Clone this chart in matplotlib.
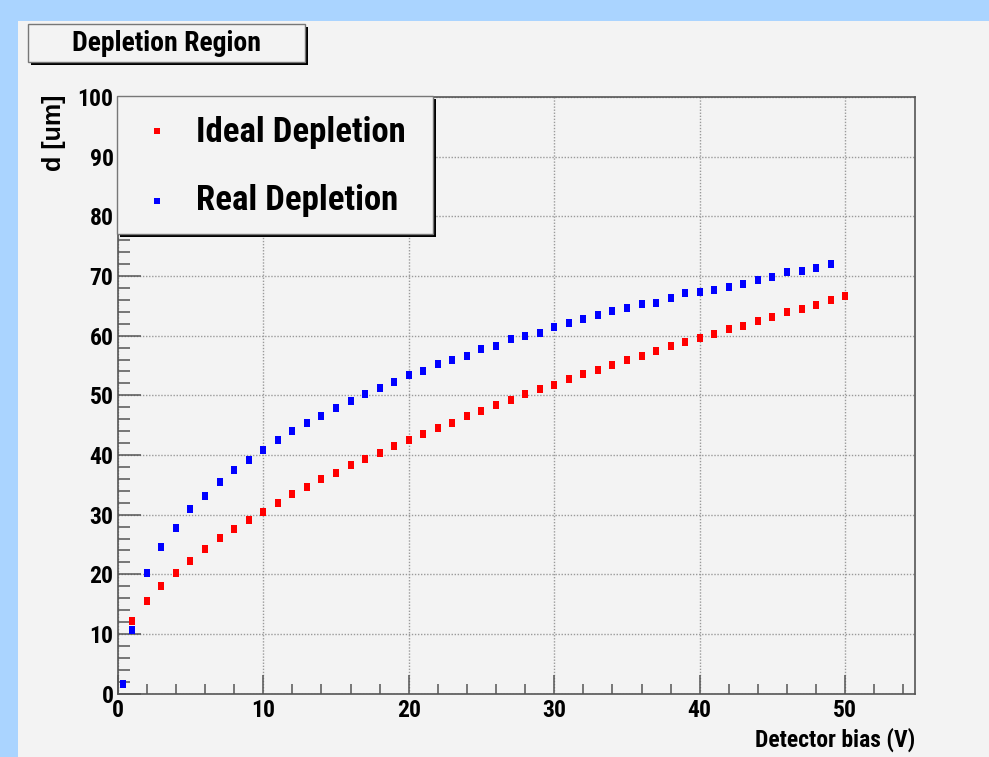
import matplotlib
matplotlib.use("Agg")
import matplotlib.pyplot as plt
from matplotlib.patches import Rectangle
from matplotlib.lines import Line2D
from matplotlib.ticker import MultipleLocator
from matplotlib.path import Path

# ---------------- data ----------------
ideal_x = list(range(1, 51))
ideal_d = [12.2, 15.5, 18.0, 20.3, 22.3, 24.2, 26.1, 27.6, 29.1, 30.5,
           31.9, 33.4, 34.6, 35.9, 37.0, 38.3, 39.3, 40.4, 41.5, 42.6,
           43.5, 44.6, 45.4, 46.5, 47.4, 48.4, 49.3, 50.2, 51.0, 51.8,
           52.7, 53.5, 54.2, 55.1, 55.9, 56.6, 57.5, 58.2, 58.9, 59.6,
           60.3, 61.1, 61.7, 62.5, 63.2, 63.9, 64.4, 65.2, 65.9, 66.6]

real_x = [0.35] + list(range(1, 50))
real_d = [1.7, 10.7, 20.3, 24.6, 27.8, 30.9, 33.2, 35.4, 37.5, 39.1,
          40.9, 42.5, 44.0, 45.4, 46.5, 47.9, 49.0, 50.2, 51.2, 52.3,
          53.4, 54.1, 55.2, 56.0, 56.6, 57.7, 58.2, 59.5, 60.0, 60.5,
          61.4, 62.1, 62.8, 63.5, 64.2, 64.7, 65.3, 65.5, 66.3, 67.1,
          67.3, 67.7, 68.2, 68.7, 69.4, 69.8, 70.6, 70.8, 71.3, 72.0]

x_ticks = [0, 10, 20, 30, 40, 50]
y_ticks = [0, 10, 20, 30, 40, 50, 60, 70, 80, 90, 100]
legend_labels = ["Ideal Depletion", "Real Depletion"]
title_text = "Depletion Region"
x_label = "Detector bias (V)"
y_label = "d [um]"

# ---------------- style ----------------
FONT = ["Roboto Condensed", "Liberation Sans", "DejaVu Sans"]
FONT_WIDE = ["Liberation Sans", "DejaVu Sans"]
plt.rcParams["font.family"] = FONT

W, H = 989, 757
def fx(x):
    return x / W
def fy(y):
    return 1 - y / H

BLUE_BG = "#aad4ff"
PANEL = "#f3f3f3"
FRAME = "#555555"

fig = plt.figure(figsize=(W / 100, H / 100), dpi=100)
fig.patch.set_facecolor(BLUE_BG)
fig.patches.append(Rectangle((fx(18), 0), 1 - fx(18), fy(21), transform=fig.transFigure,
                             facecolor=PANEL, edgecolor="none", zorder=-5))

ax_l, ax_r, ax_t, ax_b = 117.7, 915, 97, 693.7
ax = fig.add_axes([fx(ax_l), fy(ax_b), fx(ax_r) - fx(ax_l), fy(ax_t) - fy(ax_b)])
ax.set_zorder(1)
ax.set_facecolor(PANEL)
ax.set_xlim(0, (ax_r - ax_l) / 14.55)
ax.set_ylim(0, 100)

ax.set_xticks(x_ticks)
ax.set_yticks(y_ticks)
ax.xaxis.set_minor_locator(MultipleLocator(2))
ax.yaxis.set_minor_locator(MultipleLocator(2))
ax.tick_params(axis="x", which="major", direction="in", length=13.7, width=1.1, color=FRAME,
               labelsize=17, pad=4.0, top=False)
ax.tick_params(axis="x", which="minor", direction="in", length=7.2, width=1.1, color=FRAME, top=False)
ax.tick_params(axis="y", which="major", direction="in", length=16.6, width=1.1, color=FRAME,
               labelsize=17, pad=3, right=False)
ax.tick_params(axis="y", which="minor", direction="in", length=8.6, width=1.1, color=FRAME, right=False)
for lab in ax.get_xticklabels() + ax.get_yticklabels():
    lab.set_fontweight("bold")
    lab.set_family(FONT)

for s in ax.spines.values():
    s.set_color(FRAME)
    s.set_linewidth(1.2)

ax.grid(True, which="major", color="#9a9a9a", linestyle=(0, (1, 1.2)), linewidth=1.0)
ax.set_axisbelow(True)

rect_marker = Path([(-0.4, -0.5), (0.4, -0.5), (0.4, 0.5), (-0.4, 0.5), (-0.4, -0.5)],
                   closed=True)
ax.plot(ideal_x, ideal_d, linestyle="none", marker=rect_marker, markersize=6.0,
        markerfacecolor="#ff0000", markeredgewidth=0, zorder=3, clip_on=False)
ax.plot(real_x, real_d, linestyle="none", marker=rect_marker, markersize=6.0,
        markerfacecolor="#0000ff", markeredgewidth=0, zorder=3, clip_on=False)

# axis titles
fig.text(fx(915), fy(746.7), x_label, ha="right", va="baseline", fontsize=17,
         fontweight="bold", family=FONT)
fig.text(fx(54), fy(95), y_label, ha="center", va="top", rotation=90, fontsize=18,
         fontweight="bold", family=FONT_WIDE)

def shadow_box(x0, y0, x1, y1, off=3, z=5):
    fig.patches.append(Rectangle((fx(x0 + off), fy(y1 + off)), (x1 - x0) / W, (y1 - y0) / H,
                                 transform=fig.transFigure, facecolor="black",
                                 edgecolor="none", zorder=z))
    fig.patches.append(Rectangle((fx(x0), fy(y1)), (x1 - x0) / W, (y1 - y0) / H,
                                 transform=fig.transFigure, facecolor=PANEL,
                                 edgecolor="#777777", linewidth=1.0, zorder=z + 0.1))

# title box
shadow_box(28, 24, 305, 62, off=2.5)
fig.text(fx(166.5), fy(43.5), title_text, ha="center", va="center", fontsize=20,
         fontweight="bold", family=FONT, zorder=6)

# legend box
shadow_box(117, 96, 433, 234, off=3, z=7)
leg_colors = ["#ff0000", "#0000ff"]
leg_marker_y = [130.7, 200.7]
leg_text_base = [141.7, 210.0]
for lab, col, my, ty in zip(legend_labels, leg_colors, leg_marker_y, leg_text_base):
    fig.add_artist(Line2D([fx(156.7)], [fy(my)], transform=fig.transFigure, linestyle="none",
                          marker="s", markersize=5.0, markerfacecolor=col,
                          markeredgewidth=0, zorder=9))
    fig.text(fx(196), fy(ty), lab, ha="left", va="baseline", fontsize=25,
             fontweight="bold", family=FONT, zorder=9)

fig.savefig("out.png", dpi=100, facecolor=fig.get_facecolor())
